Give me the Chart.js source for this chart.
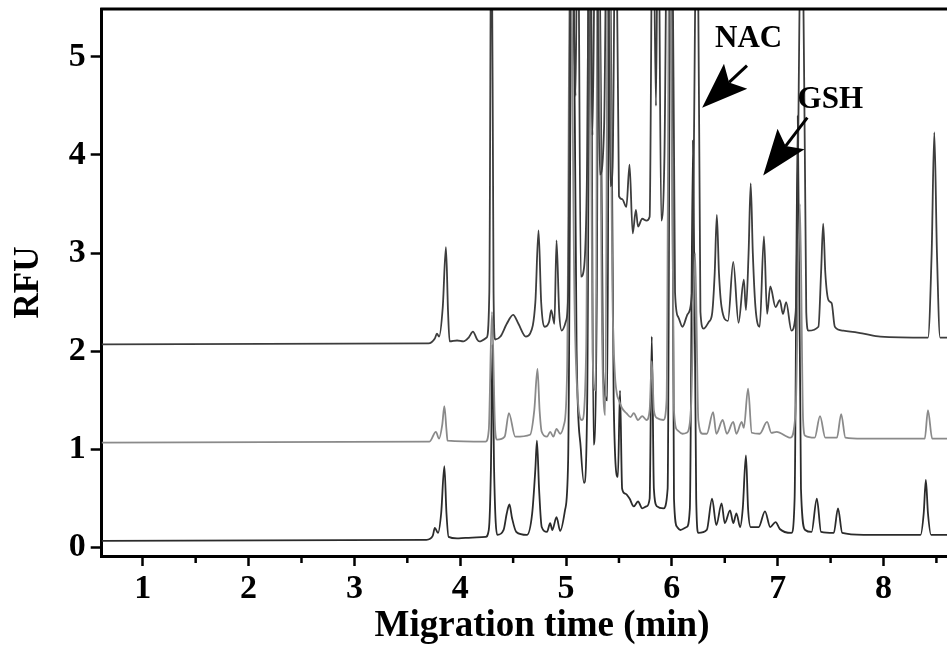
<!DOCTYPE html>
<html>
<head>
<meta charset="utf-8">
<script src="https://cdn.jsdelivr.net/npm/chart.js@4"></script>
<style>
  html, body { margin: 0; padding: 0; background: #fff; }
  canvas { display: block; }
</style>
</head>
<body>
<canvas id="trace" width="947" height="649"></canvas>
<script>
// Three electropherograms stacked with a baseline offset (time in min, signal in RFU)
const timeTicks = [1, 2, 3, 4, 5, 6, 7, 8];
const rfuTicks = [0, 1, 2, 3, 4, 5];

const upperRun = [
  [0.61, 2.07], [3.70, 2.08], [3.76, 2.13], [3.78, 2.18], [3.80, 2.15], [3.835, 2.45], [3.865, 3.06], [3.885, 2.4],
  [3.90, 2.10], [3.97, 2.11], [4.03, 2.10], [4.08, 2.14], [4.12, 2.20], [4.16, 2.12], [4.18, 2.10], [4.25, 2.14],
  [4.275, 2.6], [4.295, 7], [4.315, 2.6], [4.33, 2.12], [4.38, 2.15], [4.44, 2.28], [4.50, 2.37], [4.55, 2.28],
  [4.62, 2.15], [4.66, 2.18], [4.71, 2.5], [4.74, 3.23], [4.765, 2.5], [4.80, 2.25], [4.84, 2.30], [4.86, 2.42],
  [4.89, 2.28], [4.91, 3.13], [4.935, 2.4], [4.96, 2.21], [5.0, 2.31], [5.02, 2.59], [5.05, 7], [5.09, 4.6],
  [5.11, 7], [5.14, 2.76], [5.17, 2.85], [5.20, 4.0], [5.22, 7], [5.25, 4.2], [5.28, 7], [5.32, 3.8],
  [5.36, 4.3], [5.39, 7], [5.42, 3.68], [5.44, 3.88], [5.47, 7], [5.50, 3.58], [5.53, 3.55], [5.57, 3.47],
  [5.60, 3.90], [5.63, 3.20], [5.66, 3.44], [5.68, 3.27], [5.72, 3.35], [5.76, 3.33], [5.79, 3.37], [5.82, 7],
  [5.85, 4.5], [5.87, 7], [5.90, 3.33], [5.93, 4.0], [5.96, 7], [6.0, 7], [6.03, 2.6], [6.06, 2.35],
  [6.10, 2.25], [6.15, 2.38], [6.19, 2.6], [6.24, 7], [6.27, 2.4], [6.30, 2.23], [6.35, 2.30], [6.38, 2.38],
  [6.405, 2.8], [6.425, 3.39], [6.445, 2.8], [6.47, 2.45], [6.53, 2.31], [6.58, 2.91], [6.63, 2.29], [6.68, 2.73],
  [6.70, 2.42], [6.725, 3.0], [6.745, 3.71], [6.765, 3.0], [6.79, 2.45], [6.83, 2.25], [6.87, 3.17], [6.90, 2.38],
  [6.93, 2.66], [6.98, 2.45], [7.02, 2.52], [7.05, 2.38], [7.08, 2.50], [7.13, 2.21], [7.17, 2.4], [7.23, 7],
  [7.27, 2.4], [7.29, 2.21], [7.385, 2.25], [7.41, 2.8], [7.43, 3.30], [7.45, 2.8], [7.48, 2.52], [7.51, 2.49],
  [7.54, 2.25], [7.62, 2.21], [7.81, 2.18], [7.97, 2.15], [8.42, 2.14], [8.455, 3.0], [8.48, 4.23], [8.505, 3.0],
  [8.535, 2.14], [8.60, 2.14]
];

const middleRun = [
  [0.61, 1.07], [3.71, 1.08], [3.77, 1.18], [3.80, 1.11], [3.83, 1.25], [3.85, 1.44], [3.87, 1.20], [3.88, 1.09],
  [4.24, 1.08], [4.27, 1.20], [4.30, 2.4], [4.33, 1.2], [4.35, 1.10], [4.42, 1.13], [4.46, 1.37], [4.52, 1.13],
  [4.66, 1.15], [4.70, 1.4], [4.73, 1.82], [4.75, 1.4], [4.77, 1.18], [4.82, 1.13], [4.85, 1.18], [4.88, 1.13],
  [4.91, 1.21], [4.945, 1.16], [4.98, 1.25], [5.01, 1.8], [5.04, 6.5], [5.08, 2.5], [5.12, 1.4], [5.15, 1.3],
  [5.19, 2.0], [5.22, 7], [5.25, 2.0], [5.28, 1.6], [5.30, 7], [5.34, 2.2], [5.37, 1.35], [5.40, 7],
  [5.44, 2.5], [5.46, 1.8], [5.48, 1.57], [5.50, 1.50], [5.53, 1.42], [5.57, 1.37], [5.61, 1.33], [5.64, 1.37],
  [5.68, 1.30], [5.72, 1.34], [5.76, 1.30], [5.79, 1.4], [5.81, 1.9], [5.83, 1.4], [5.86, 1.32], [5.92, 1.30],
  [5.95, 1.5], [5.98, 7], [6.02, 1.4], [6.05, 1.20], [6.10, 1.16], [6.14, 1.17], [6.18, 1.4], [6.22, 3.0],
  [6.25, 1.3], [6.29, 1.16], [6.33, 1.16], [6.39, 1.38], [6.42, 1.16], [6.48, 1.30], [6.52, 1.16], [6.58, 1.28],
  [6.61, 1.16], [6.66, 1.28], [6.68, 1.22], [6.72, 1.62], [6.755, 1.17], [6.83, 1.16], [6.90, 1.28], [6.94, 1.17],
  [6.99, 1.18], [7.12, 1.12], [7.17, 1.4], [7.21, 3.5], [7.24, 1.3], [7.26, 1.14], [7.35, 1.12], [7.40, 1.34],
  [7.45, 1.12], [7.56, 1.12], [7.60, 1.36], [7.64, 1.12], [7.80, 1.11], [8.39, 1.11], [8.42, 1.40], [8.46, 1.11],
  [8.60, 1.11]
];

const lowerRun = [
  [0.61, 0.07], [3.68, 0.08], [3.74, 0.12], [3.76, 0.20], [3.79, 0.15], [3.82, 0.35], [3.85, 0.83], [3.87, 0.35],
  [3.89, 0.11], [3.97, 0.095], [4.05, 0.10], [4.24, 0.11], [4.27, 0.18], [4.29, 0.8], [4.305, 2.07], [4.32, 0.8],
  [4.35, 0.13], [4.41, 0.18], [4.44, 0.35], [4.465, 0.44], [4.49, 0.30], [4.53, 0.16], [4.63, 0.13], [4.68, 0.35],
  [4.71, 0.8], [4.725, 1.09], [4.745, 0.6], [4.77, 0.21], [4.82, 0.16], [4.85, 0.25], [4.87, 0.18], [4.91, 0.31],
  [4.945, 0.17], [4.99, 0.38], [5.02, 0.9], [5.06, 7], [5.10, 2.0], [5.14, 1.0], [5.17, 0.66], [5.20, 1.5],
  [5.23, 7], [5.26, 1.05], [5.29, 2.5], [5.31, 7], [5.35, 1.8], [5.39, 1.5], [5.41, 7], [5.45, 1.5],
  [5.49, 0.72], [5.51, 1.6], [5.53, 0.60], [5.56, 0.55], [5.60, 0.50], [5.64, 0.42], [5.68, 0.47], [5.72, 0.40],
  [5.76, 0.42], [5.79, 0.5], [5.81, 2.15], [5.83, 0.6], [5.86, 0.42], [5.92, 0.40], [5.96, 0.6], [5.99, 7],
  [6.02, 0.5], [6.05, 0.21], [6.08, 0.18], [6.14, 0.21], [6.17, 0.4], [6.20, 4.15], [6.23, 0.5], [6.25, 0.15],
  [6.33, 0.18], [6.38, 0.50], [6.42, 0.23], [6.47, 0.45], [6.50, 0.25], [6.55, 0.38], [6.58, 0.25], [6.61, 0.35],
  [6.645, 0.21], [6.67, 0.4], [6.70, 0.94], [6.72, 0.4], [6.745, 0.21], [6.82, 0.21], [6.88, 0.37], [6.93, 0.21],
  [6.98, 0.26], [7.02, 0.19], [7.13, 0.15], [7.16, 0.5], [7.19, 4.40], [7.22, 0.6], [7.26, 0.18], [7.32, 0.16],
  [7.37, 0.50], [7.41, 0.16], [7.53, 0.15], [7.57, 0.40], [7.61, 0.15], [7.81, 0.13], [8.35, 0.13], [8.38, 0.35],
  [8.40, 0.69], [8.42, 0.35], [8.45, 0.13], [8.60, 0.13]
];

// peak labels with arrows, anchored in axis units
const peakNotes = [
  { text: 'NAC', label: [6.725, 5.18], tail: [6.71, 4.91], tip: [6.286, 4.48] },
  { text: 'GSH', label: [7.497, 4.56], tail: [7.28, 4.38], tip: [6.863, 3.79] }
];

const serif = "'Liberation Serif', 'Times New Roman', serif";
const toPoints = run => run.map(p => ({ x: p[0], y: p[1] }));

function drawArrow(ctx, tx, ty, hx, hy) {
  const ang = Math.atan2(hy - ty, hx - tx);
  const len = 46, half = 17, notch = 9;
  const cos = Math.cos(ang), sin = Math.sin(ang);
  const bx = hx - cos * len, by = hy - sin * len;
  ctx.beginPath();
  ctx.moveTo(tx, ty);
  ctx.lineTo(bx + cos * notch, by + sin * notch);
  ctx.lineWidth = 3;
  ctx.stroke();
  ctx.beginPath();
  ctx.moveTo(hx, hy);
  ctx.lineTo(bx - sin * half, by + cos * half);
  ctx.lineTo(bx + cos * notch, by + sin * notch);
  ctx.lineTo(bx + sin * half, by - cos * half);
  ctx.closePath();
  ctx.fill();
}

const framePlugin = {
  id: 'frame',
  afterDraw(chart) {
    const { ctx, chartArea: area, scales: { x, y } } = chart;
    ctx.save();
    ctx.strokeStyle = '#000';
    ctx.fillStyle = '#000';
    // top edge of the frame
    ctx.lineWidth = 3;
    ctx.beginPath();
    ctx.moveTo(area.left - 1.5, area.top);
    ctx.lineTo(area.right, area.top);
    ctx.stroke();
    // half-minute minor ticks
    ctx.lineWidth = 2.5;
    timeTicks.forEach(t => {
      const v = t + 0.5;
      if (v > x.max) return;
      const px = x.getPixelForValue(v);
      ctx.beginPath();
      ctx.moveTo(px, area.bottom);
      ctx.lineTo(px, area.bottom + 7);
      ctx.stroke();
    });
    // x axis title
    ctx.font = 'bold 37px ' + serif;
    ctx.textAlign = 'center';
    ctx.textBaseline = 'alphabetic';
    ctx.fillText('Migration time (min)', 542, 636);
    // peak labels
    ctx.font = 'bold 31px ' + serif;
    ctx.textBaseline = 'middle';
    peakNotes.forEach(n => {
      ctx.fillText(n.text, x.getPixelForValue(n.label[0]), y.getPixelForValue(n.label[1]));
      drawArrow(ctx,
        x.getPixelForValue(n.tail[0]), y.getPixelForValue(n.tail[1]),
        x.getPixelForValue(n.tip[0]), y.getPixelForValue(n.tip[1]));
    });
    ctx.restore();
  }
};

const lineStyle = color => ({
  borderColor: color,
  borderWidth: 1.8,
  pointRadius: 0,
  cubicInterpolationMode: 'monotone',
  fill: false
});

new Chart(document.getElementById('trace'), {
  type: 'line',
  data: {
    datasets: [
      { label: 'upper', data: toPoints(upperRun), ...lineStyle('#3d3d3d') },
      { label: 'middle', data: toPoints(middleRun), ...lineStyle('#8a8a8a') },
      { label: 'lower', data: toPoints(lowerRun), ...lineStyle('#2b2b2b') }
    ]
  },
  options: {
    responsive: false,
    animation: false,
    devicePixelRatio: 1,
    layout: { padding: { top: 9, right: 0, left: 0, bottom: 0 } },
    plugins: { legend: { display: false }, tooltip: { enabled: false } },
    scales: {
      x: {
        type: 'linear',
        min: 0.612,
        max: 8.60,
        afterFit: s => { s.height = 93; s.paddingLeft = 0; s.paddingRight = 0; },
        afterBuildTicks: s => { s.ticks = timeTicks.map(v => ({ value: v })); },
        border: { display: true, color: '#000', width: 3 },
        grid: { drawOnChartArea: false, drawTicks: true, tickLength: 10, tickWidth: 2.5, tickColor: '#000' },
        ticks: { color: '#000', padding: 3, maxRotation: 0, font: { family: serif, size: 34, weight: 'bold' } }
      },
      y: {
        min: -0.085,
        max: 5.486,
        afterFit: s => { s.width = 101.7; s.paddingTop = 0; s.paddingBottom = 0; },
        afterBuildTicks: s => { s.ticks = rfuTicks.map(v => ({ value: v })); },
        border: { display: true, color: '#000', width: 3 },
        grid: { drawOnChartArea: false, drawTicks: true, tickLength: 11, tickWidth: 2.5, tickColor: '#000' },
        ticks: { color: '#000', padding: 5, font: { family: serif, size: 34, weight: 'bold' } },
        title: {
          display: true,
          text: 'RFU',
          color: '#000',
          padding: { top: 8, bottom: 0 },
          font: { family: serif, size: 35, weight: 'bold' }
        }
      }
    }
  },
  plugins: [framePlugin]
});
</script>
</body>
</html>
